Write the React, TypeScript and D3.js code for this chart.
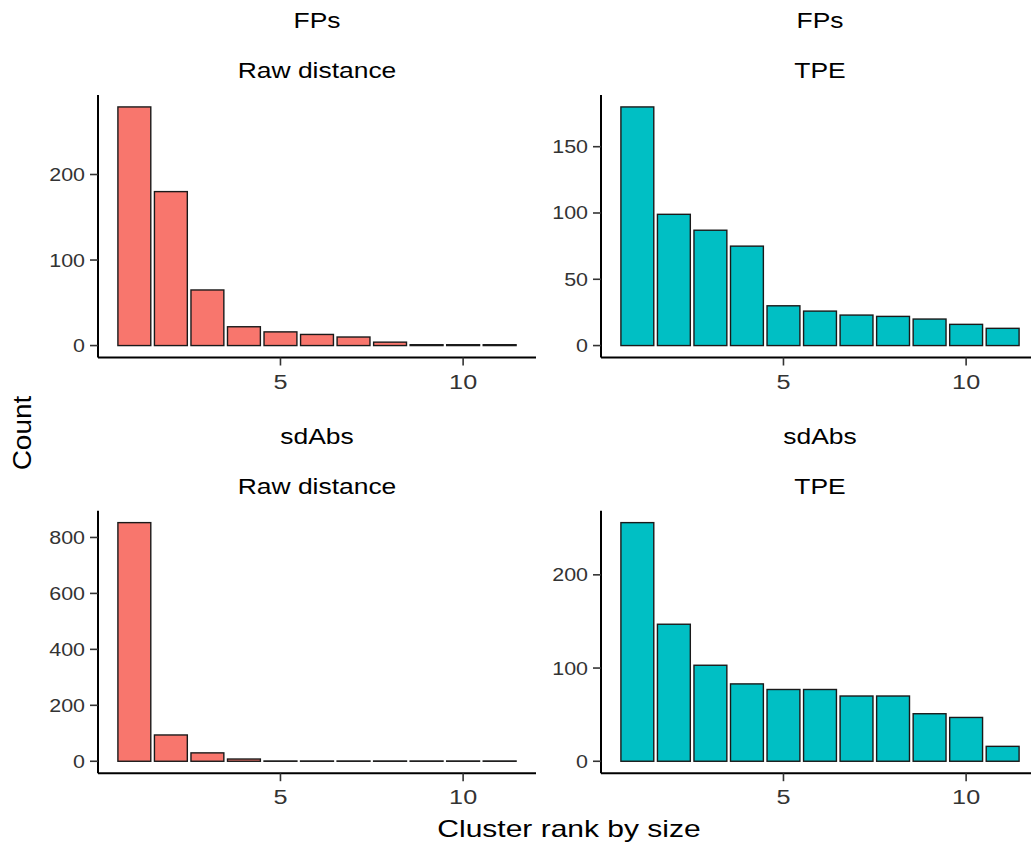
import { scaleLinear } from 'd3'

const width = 1031
const height = 846

const ranks = [1, 2, 3, 4, 5, 6, 7, 8, 9, 10, 11]

// counts per cluster rank
const fpsRaw = [279, 180, 65, 22, 16, 13, 10, 4, 1, 1, 1]
const fpsTpe = [180, 99, 87, 75, 30, 26, 23, 22, 20, 16, 13]
const sdAbsRaw = [853, 94, 30, 8, 1, 1, 1, 1, 1, 1, 1]
const sdAbsTpe = [256, 147, 103, 83, 77, 77, 70, 70, 51, 47, 16]

const xTicks = [5, 10]
const yTicksFpsRaw = [0, 100, 200]
const yTicksFpsTpe = [0, 50, 100, 150]
const yTicksSdRaw = [0, 200, 400, 600, 800]
const yTicksSdTpe = [0, 100, 200]

const RED = '#F8766D'
const CYAN = '#00BFC4'
const FONT = '"Liberation Sans", Arial, Helvetica, sans-serif'

const panelLeft = [98, 601]
const panelTop = [95, 510.7]
const panelW = 438
const panelH = 262.5

// text in the reference is a little wider than the font, so stretch it
const Label = ({ x, y, size, sx = 1.2, anchor = 'middle', rotate = 0, fill = '#000', children }) => (
  <text
    transform={`translate(${x},${y}) rotate(${rotate}) scale(${sx},1)`}
    fontSize={size}
    fontFamily={FONT}
    textAnchor={anchor}
    fill={fill}
  >
    {children}
  </text>
)

const Panel = ({ left, top, values, yTicks, fill, title1, title2 }) => {
  const xScale = scaleLinear().domain([0.005, 11.995]).range([left, left + panelW])
  const maxV = Math.max(...values)
  const yScale = scaleLinear()
    .domain([-maxV * 0.05, maxV * 1.05])
    .range([top + panelH, top])
  const bw = xScale(0.9) - xScale(0)
  const bottom = top + panelH
  const cx = left + panelW / 2

  return (
    <g>
      <Label x={cx} y={top - 66.7} size={21.5} sx={1.23}>{title1}</Label>
      <Label x={cx} y={top - 16.7} size={21.5} sx={1.23}>{title2}</Label>

      {values.map((v, i) => (
        <rect
          key={i}
          x={xScale(ranks[i]) - bw / 2}
          y={yScale(v)}
          width={bw}
          height={Math.max(0, yScale(0) - yScale(v))}
          fill={fill}
          stroke="#1a1a1a"
          strokeWidth={1.4}
        />
      ))}

      {/* y axis */}
      <line x1={left} x2={left} y1={top} y2={bottom} stroke="#000" strokeWidth={2} />
      {yTicks.map((t) => (
        <g key={t}>
          <line x1={left - 8} x2={left} y1={yScale(t)} y2={yScale(t)} stroke="#333" strokeWidth={1.6} />
          <Label x={left - 13} y={yScale(t) + 6.5} size={18.5} sx={1.16} anchor="end" fill="#333">
            {t}
          </Label>
        </g>
      ))}

      {/* x axis */}
      <line x1={left} x2={left + panelW} y1={bottom} y2={bottom} stroke="#000" strokeWidth={2} />
      {xTicks.map((t) => (
        <g key={t}>
          <line x1={xScale(t)} x2={xScale(t)} y1={bottom} y2={bottom + 8} stroke="#333" strokeWidth={1.6} />
          <Label x={xScale(t)} y={bottom + 31} size={21} sx={1.2} fill="#333">
            {t}
          </Label>
        </g>
      ))}
    </g>
  )
}

const App = () => {
  return (
    <svg
      width={width}
      height={height}
      style={{ position: 'absolute', left: 0, top: 0, background: '#fff' }}
    >
      <rect width={width} height={height} fill="#fff" />
      <Panel left={panelLeft[0]} top={panelTop[0]} values={fpsRaw} yTicks={yTicksFpsRaw} fill={RED} title1="FPs" title2="Raw distance" />
      <Panel left={panelLeft[1]} top={panelTop[0]} values={fpsTpe} yTicks={yTicksFpsTpe} fill={CYAN} title1="FPs" title2="TPE" />
      <Panel left={panelLeft[0]} top={panelTop[1]} values={sdAbsRaw} yTicks={yTicksSdRaw} fill={RED} title1="sdAbs" title2="Raw distance" />
      <Panel left={panelLeft[1]} top={panelTop[1]} values={sdAbsTpe} yTicks={yTicksSdTpe} fill={CYAN} title1="sdAbs" title2="TPE" />

      <Label x={31} y={433} size={25} sx={1.12} rotate={-90}>Count</Label>
      <Label x={569} y={836.7} size={24} sx={1.25}>Cluster rank by size</Label>
    </svg>
  )
}

export default App
